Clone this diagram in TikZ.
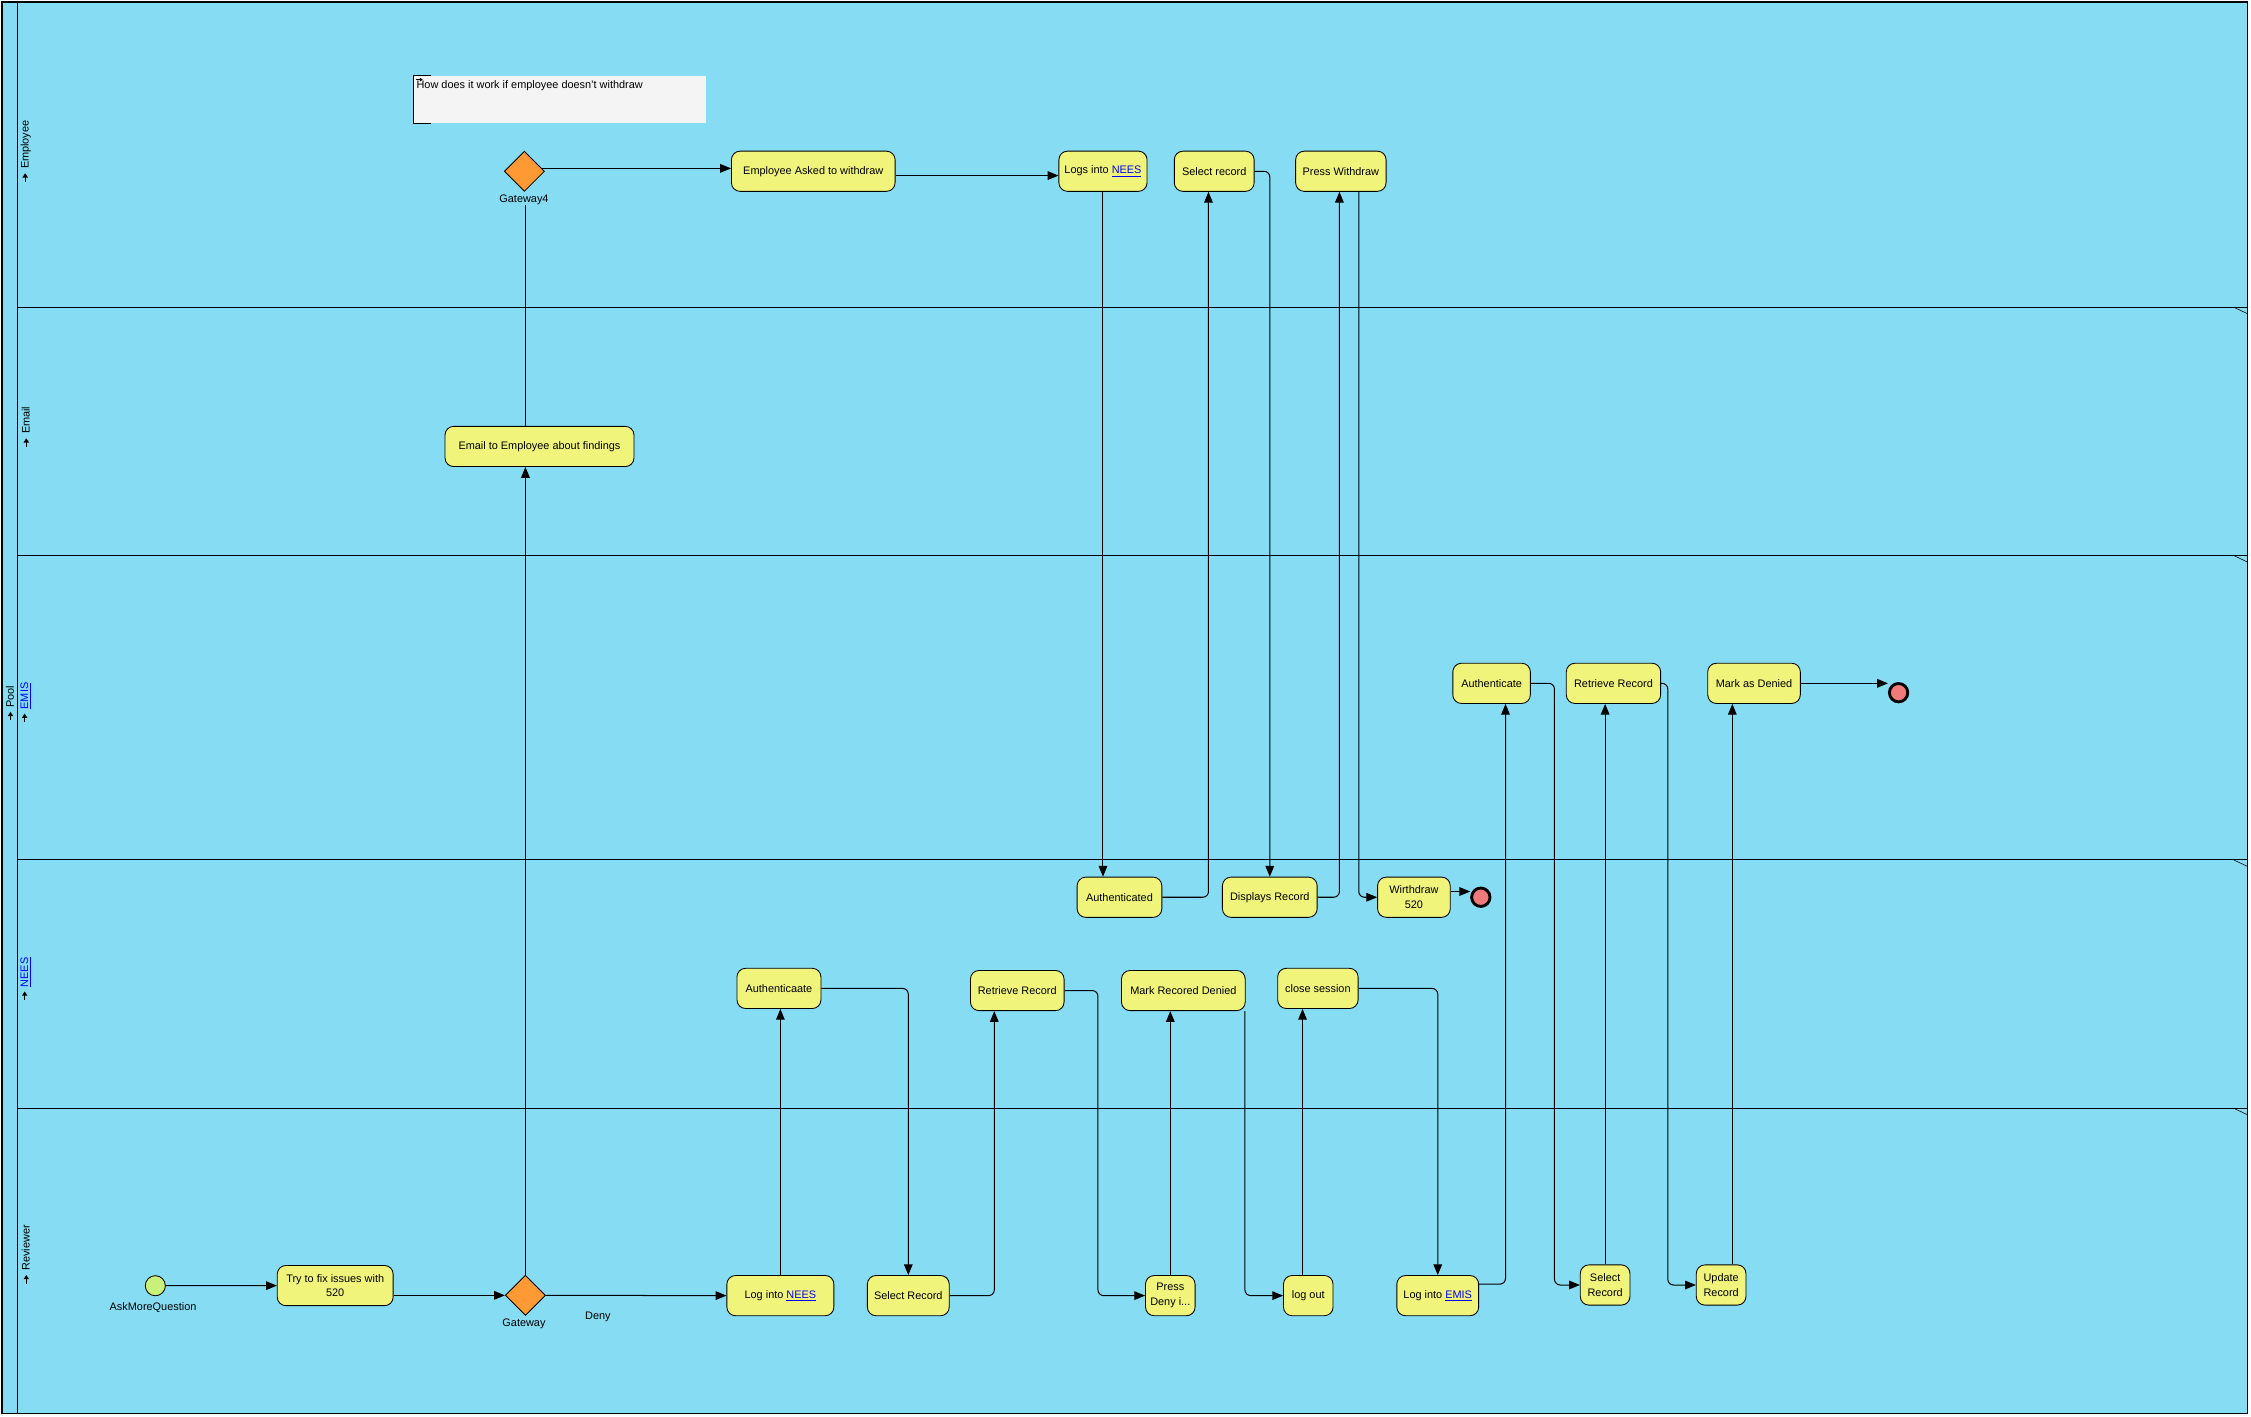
\documentclass[tikz,border=0pt]{standalone}
\usepackage{fontspec}
\setmainfont{Liberation Sans}
\usetikzlibrary{shapes.geometric,arrows.meta,calc}

\definecolor{lanefill}{RGB}{133,220,243}
\definecolor{taskfill}{RGB}{240,244,122}
\definecolor{gwfill}{RGB}{255,153,51}
\definecolor{endfill}{RGB}{240,122,122}
\definecolor{startfill}{RGB}{200,240,122}
\definecolor{notefill}{RGB}{244,244,244}
\definecolor{linkblue}{RGB}{0,0,255}

% small arrow shown in front of each lane name
\newcommand\lanearrow{\tikz[baseline=-0.6ex]{\draw[line width=0.9pt,-{Triangle[length=3pt,width=3.6pt]}] (0pt,0pt) -- (6pt,0pt);}}
% hyperlinked model element
\newcommand\lnk[1]{\textcolor{linkblue}{\underline{#1}}}

\tikzset{
  txt/.style={font=\fontsize{7.6}{10.4}\selectfont},
  task/.style={txt, draw=black, line width=0.6pt, fill=taskfill, rounded corners=6pt,
    minimum height=28pt, inner sep=1pt, align=center},
  gateway/.style={diamond, draw=black, line width=0.6pt, fill=gwfill,
    minimum width=28pt, minimum height=28pt, inner sep=0pt},
  startev/.style={circle, draw=black, line width=0.6pt, fill=startfill, minimum size=14pt, inner sep=0pt},
  endev/.style={circle, draw=black, line width=2pt, fill=endfill, minimum size=12.8pt, inner sep=0pt},
  flow/.style={draw=black, line width=0.7pt, rounded corners=4pt, -{Triangle[length=7.5pt,width=6pt]}},
  plainflow/.style={draw=black, line width=0.7pt, rounded corners=4pt},
  lanelbl/.style={txt, rotate=90, inner sep=0pt},
  lbl/.style={txt, inner sep=0pt},
}

\begin{document}
\begin{tikzpicture}[x=1pt,y=-1pt]
\useasboundingbox (0,0) rectangle (1568,987);

% pool and lanes
\fill[lanefill] (1.5,1.5) rectangle (1565.5,984.5);
\draw[line width=1pt] (1.5,1.5) rectangle (1565.5,984.5);
\draw[line width=0.8pt] (12,1.5) -- (12,984.5);
\foreach \yy in {214,387,599,772} {
  \draw[line width=0.8pt] (12,\yy) -- (1565.5,\yy);
  \draw[line width=0.4pt] (1556,\yy) -- (1565.5,{\yy+4.5});
}

% lane names
\node[lanelbl] (lblpool)  at (7,490)     {\lanearrow\hspace{2.5pt}Pool};
\node[lanelbl] (lblemp)   at (18,105.5)  {\lanearrow\hspace{2.5pt}Employee};
\node[lanelbl] (lblemail) at (18,297.5)  {\lanearrow\hspace{2.5pt}Email};
\node[lanelbl] (lblemis)  at (18,489.5)  {\lanearrow\hspace{2.5pt}\lnk{EMIS}};
\node[lanelbl] (lblnees)  at (18,682)    {\lanearrow\hspace{2.5pt}\lnk{NEES}};
\node[lanelbl] (lblrev)   at (18,874)    {\lanearrow\hspace{2.5pt}Reviewer};

% annotation
\node[fill=notefill, anchor=north west, minimum width=203.6pt, minimum height=33.2pt, inner sep=0pt] (note) at (287.8,52.5) {};
\node[lbl, anchor=west] (notetext) at (290,59.5) {How does it work if employee doesn't withdraw};
\draw[line width=0.6pt] ([xshift=12.6pt]note.north west) -- (note.north west) -- (note.south west) -- ([xshift=12.6pt]note.south west);
\draw[line width=0.6pt, -{Triangle[length=2pt,width=2.4pt]}] (289.5,55.5) -- (294.5,55.5);

% Employee lane
\node[gateway] (gw4) at (365.3,119.3) {};
\node[lbl] (gw4lbl) at (365,139) {Gateway4};
\node[task, minimum width=114pt]  (empasked) at (566.5,119.3) {Employee Asked to withdraw};
\node[task, minimum width=61.4pt] (logsnees) at (768.3,119.3) {Logs into \lnk{NEES}};
\node[task, minimum width=55.6pt] (selrec)   at (845.8,119.3) {Select record};
\node[task, minimum width=63pt]   (presswd)  at (934,119.3)   {Press Withdraw};

% Email lane
\node[task, minimum width=131.6pt] (email) at (375.8,311) {Email to Employee about findings};

% EMIS lane
\node[task, minimum width=54pt]   (authemis)   at (1039,476)   {Authenticate};
\node[task, minimum width=65.7pt] (retemis)    at (1123.9,476) {Retrieve Record};
\node[task, minimum width=64.5pt] (markdenied) at (1221.8,476) {Mark as Denied};
\node[endev] (endb) at (1322.5,482.5) {};

% NEES lane
\node[task, minimum width=59pt]   (authd)     at (779.8,625)  {Authenticated};
\node[task, minimum width=66pt]   (disp)      at (884.5,625)  {Displays Record};
\node[task, minimum width=50.6pt] (wd520)     at (984.9,625)  {Wirthdraw\\520};
\node[endev] (enda) at (1031.5,625) {};
\node[task, minimum width=58.5pt] (authnees)  at (542.6,688.5) {Authenticaate};
\node[task, minimum width=65.2pt] (retnees)   at (708.6,690)   {Retrieve Record};
\node[task, minimum width=86.2pt] (markden)   at (824.3,690)   {Mark Recored Denied};
\node[task, minimum width=56pt]   (closesess) at (918,688.5)   {close session};

% Reviewer lane
\node[startev] (start) at (108.2,895.6) {};
\node[lbl] (startlbl) at (106.6,911) {AskMoreQuestion};
\node[task, minimum width=80.7pt] (try) at (233.5,895.5) {Try to fix issues with\\520};
\node[gateway] (gw) at (366,902.3) {};
\node[lbl] (gwlbl) at (365,922) {Gateway};
\node[lbl] (denylbl) at (416.5,917) {Deny};
\node[task, minimum width=74.5pt] (lognees)   at (543.6,902.5)  {Log into \lnk{NEES}};
\node[task, minimum width=57pt]   (selrev)    at (632.7,902.5)  {Select Record};
\node[task, minimum width=34.5pt] (pressdeny) at (815.2,902.5)  {Press\\Deny i...};
\node[task, minimum width=34.5pt] (logout)    at (911.3,902.5)  {log out};
\node[task, minimum width=57pt]   (logemis)   at (1001.5,902.5) {Log into \lnk{EMIS}};
\node[task, minimum width=34.6pt] (selemis)   at (1118.1,895.1) {Select\\Record};
\node[task, minimum width=34.6pt] (update)    at (1198.9,895.1) {Update\\Record};

% sequence flows
\draw[flow] (start) -- (try);
\draw[flow] (try.east |- gw) -- (gw.west);
\draw[flow] (gw.east) -- (lognees.west);
\draw[flow] (gw.north) -- (gw.north |- email.south);
\draw[plainflow] (gw.north |- email.north) -- (gw.north |- gw4lbl.south);
\draw[flow] ([shift={(-2pt,2pt)}]gw4.east) -- ([yshift=2pt]empasked.west);
\draw[flow] ([yshift=-3pt]empasked.east) -- ([yshift=-3pt]logsnees.west);
\draw[flow] (logsnees.south) -- (logsnees.south |- authd.north);
\draw[flow] (authd.east) -| ([xshift=-4pt]selrec.south);
\draw[flow] (selrec.east) -| (disp.north);
\draw[flow] (disp.east) -| ([xshift=-1pt]presswd.south);
\draw[flow] ([xshift=12.5pt]presswd.south) |- (wd520.west);
\draw[flow] ([yshift=4pt]wd520.east) -- ([yshift=4pt]wd520.east -| enda.west);
\draw[flow] (lognees.north) -- (lognees.north |- authnees.south);
\draw[flow] (authnees.east) -| (selrev.north);
\draw[flow] (selrev.east) -| ([xshift=-16pt]retnees.south);
\draw[flow] (retnees.east) -- ([xshift=23.3pt]retnees.east) |- (pressdeny.west);
\draw[flow] (pressdeny.north) -- (pressdeny.north |- markden.south);
\draw[flow] ([xshift=-0.5pt]markden.south east) |- (logout.west);
\draw[flow] ([xshift=-4pt]logout.north) -- ([xshift=-4pt]logout.north |- closesess.south);
\draw[flow] (closesess.east) -| (logemis.north);
\draw[flow] ([yshift=8pt]logemis.east) -| ([xshift=9.7pt]authemis.south);
\draw[flow] (authemis.east) -- ([xshift=16.5pt]authemis.east) |- (selemis.west);
\draw[flow] (selemis.north) -- (selemis.north |- retemis.south);
\draw[flow] (retemis.east) -- ([xshift=4.7pt]retemis.east) |- (update.west);
\draw[flow] ([xshift=7.8pt]update.north) -- ([xshift=7.8pt]update.north |- markdenied.south);
\draw[flow] (markdenied.east) -- (markdenied.east -| endb.west);
\end{tikzpicture}
\end{document}
